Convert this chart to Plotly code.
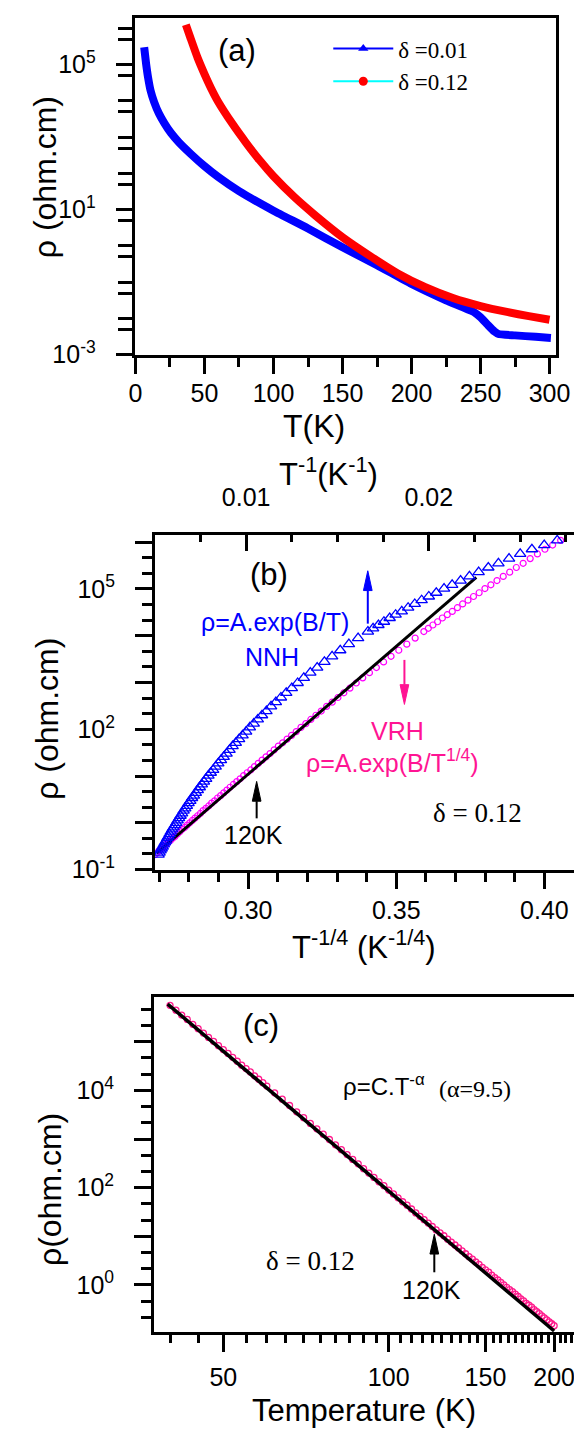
import plotly.graph_objects as go

W, H = 582, 1439

# ---------------- data ----------------
# panel (a): rho(T), delta = 0.01
T_a_d001 = [6.3, 7.7, 9.1, 10.9, 13.5, 17, 21, 25.6, 31.4, 40, 50, 60, 75, 100, 125,
            150, 175, 200, 225, 245, 250, 255, 260, 263, 275, 290, 301]
log_rho_a_d001 = [5.48, 5.02, 4.65, 4.29, 3.97, 3.65, 3.38, 3.12, 2.86, 2.54, 2.20, 1.90,
                  1.51, 0.97, 0.48, -0.04, -0.53, -1.05, -1.50, -1.82, -1.97, -2.17, -2.36,
                  -2.43, -2.47, -2.51, -2.54]
# panel (a): rho(T), delta = 0.12
T_a_d012 = [36.5, 40, 45, 50, 55, 60, 70, 80, 90, 100, 115, 130, 150, 170, 190, 210,
            230, 250, 270, 285, 300]
log_rho_a_d012 = [6.10, 5.72, 5.19, 4.74, 4.33, 3.97, 3.38, 2.85, 2.36, 1.92, 1.35, 0.85,
                  0.24, -0.28, -0.76, -1.14, -1.44, -1.66, -1.83, -1.94, -2.04]

# panels (b), (c): delta = 0.12 sample
T_012 = [37, 38, 39, 40, 41, 42, 43, 44, 45, 46, 47, 48, 49, 50, 51, 52, 53, 54, 55, 56,
         57, 58, 59, 60,
         62, 64, 66, 68, 70, 72, 74, 76, 78, 80, 82, 84, 86, 88, 90, 92, 94, 96, 98, 100,
         102, 104, 106, 108, 110, 112, 114, 116, 118, 120, 122, 124, 126, 128, 130, 132,
         134, 136, 138, 140, 142, 144, 146, 148, 150, 152, 154, 156, 158, 160, 162, 164,
         166, 168, 170, 172, 174, 176, 178, 180, 182, 184, 186, 188, 190, 192, 194, 196,
         198, 200]
log_rho_012 = [6.04, 5.94, 5.85, 5.75, 5.65, 5.55, 5.46, 5.36, 5.27, 5.18, 5.09, 5.01,
               4.92, 4.84, 4.76, 4.68, 4.60, 4.52, 4.45, 4.38, 4.30, 4.23, 4.16, 4.09,
               3.95, 3.82, 3.69, 3.56, 3.44, 3.32, 3.21, 3.10, 2.99, 2.88,
               2.78, 2.68, 2.58, 2.49, 2.39, 2.30, 2.21, 2.12, 2.04, 1.95,
               1.87, 1.79, 1.71, 1.64, 1.56, 1.48, 1.41, 1.34, 1.27, 1.20,
               1.13, 1.07, 1.01, 0.94, 0.88, 0.82, 0.76, 0.70, 0.64, 0.58,
               0.53, 0.47, 0.42, 0.36, 0.31, 0.26, 0.20, 0.15, 0.10, 0.05,
               0.00, -0.05, -0.10, -0.14, -0.19, -0.24, -0.29, -0.33, -0.38, -0.42,
               -0.46, -0.51, -0.55, -0.59, -0.64, -0.68, -0.72, -0.76, -0.80, -0.84]
assert len(T_012) == len(log_rho_012)

# fitted lines (end points)
vrh_fit_x = [0.2691, 0.3770]          # T^-1/4
vrh_fit_log_rho = [-0.65, 5.25]
pow_fit_T = [39.6, 200]
pow_fit_log_rho = [5.775, -0.95]

# tick labels
ticks_a_x = [0, 50, 100, 150, 200, 250, 300]
ticks_a_y = [1e-3, 1e1, 1e5]
ticktext_a_y = ['10<sup>-3</sup>', '10<sup>1</sup>', '10<sup>5</sup>']
ticks_b_x = [0.30, 0.35, 0.40]
ticktext_b_x = ['0.30', '0.35', '0.40']
ticks_b_top = [0.01, 0.02]
ticktext_b_top = ['0.01', '0.02']
ticks_c_x = [50, 100, 150, 200]

# ---------------- helpers ----------------
def rho(logs):
    return [10 ** v for v in logs]

def px(x):
    return x / W

def py(y):
    return 1 - y / H

BLUE = '#0000ff'
RED = '#ff0000'
MAG = '#ff00ff'
PINK = '#ff1a8c'
TXTPINK = '#ff1493'
SANS = 'Liberation Sans'
SERIF = 'Liberation Serif'

fig = go.Figure()

# ---- panel (a)
fig.add_trace(go.Scatter(x=T_a_d001, y=rho(log_rho_a_d001), mode='lines',
                         line=dict(color=BLUE, width=8, shape='spline', smoothing=0.5),
                         xaxis='x', yaxis='y', showlegend=False))
fig.add_trace(go.Scatter(x=T_a_d012, y=rho(log_rho_a_d012), mode='lines',
                         line=dict(color=RED, width=8, shape='spline', smoothing=0.5),
                         xaxis='x', yaxis='y', showlegend=False))
# legend entries
fig.add_trace(go.Scatter(x=[None], y=[None], mode='lines+markers', name='δ =0.01',
                         line=dict(color=BLUE, width=2),
                         marker=dict(symbol='triangle-up', size=9, color=BLUE),
                         xaxis='x', yaxis='y', legend='legend'))
fig.add_trace(go.Scatter(x=[None], y=[None], mode='lines+markers', name='δ =0.12',
                         line=dict(color='#00ffff', width=2),
                         marker=dict(symbol='circle', size=9, color=RED),
                         xaxis='x', yaxis='y', legend='legend2'))

# ---- panel (b)
T_b = [t for t in T_012 if t <= 192]
rho_b = [10 ** v for t, v in zip(T_012, log_rho_012) if t <= 192]
fig.add_trace(go.Scatter(x=[1.0 / t for t in T_b], y=rho_b, mode='markers',
                         marker=dict(symbol='triangle-up-open', size=10, color=BLUE,
                                     line=dict(width=1.3, color=BLUE)),
                         xaxis='x4', yaxis='y2', showlegend=False))
fig.add_trace(go.Scatter(x=[t ** -0.25 for t in T_b], y=rho_b, mode='markers',
                         marker=dict(symbol='circle-open', size=6, color=MAG,
                                     line=dict(width=1.2, color=MAG)),
                         xaxis='x2', yaxis='y2', showlegend=False))
fig.add_trace(go.Scatter(x=vrh_fit_x, y=rho(vrh_fit_log_rho), mode='lines',
                         line=dict(color='black', width=3),
                         xaxis='x2', yaxis='y2', showlegend=False))

# ---- panel (c)
T_c = [t for t in T_012 if t >= 40]
rho_c = [10 ** v for t, v in zip(T_012, log_rho_012) if t >= 40]
fig.add_trace(go.Scatter(x=T_c, y=rho_c, mode='markers',
                         marker=dict(symbol='circle-open', size=6, color=PINK,
                                     line=dict(width=1.3, color=PINK)),
                         xaxis='x3', yaxis='y3', showlegend=False))
fig.add_trace(go.Scatter(x=pow_fit_T, y=rho(pow_fit_log_rho), mode='lines',
                         line=dict(color='black', width=3.5),
                         xaxis='x3', yaxis='y3', showlegend=False))

# ---------------- axes ----------------
tickfont = dict(family=SANS, size=25, color='black')

def axis_common(**kw):
    d = dict(showline=True, linecolor='black', linewidth=2.5, mirror=True,
             ticks='outside', ticklen=17, tickwidth=2.5, tickcolor='black',
             showgrid=False, zeroline=False, tickfont=tickfont, tickmode='array')
    d.update(kw)
    return d

def minor(vals, ln=10, ticks='outside'):
    return dict(tickmode='array', tickvals=vals, ticklen=ln, tickwidth=2.5,
                tickcolor='black', ticks=ticks, showgrid=False)

def decades(lo, hi):
    return [10.0 ** k for k in range(lo, hi + 1)]

def third_dec(lo, hi):
    return [10.0 ** (k + f) for k in range(lo, hi + 1) for f in (1 / 3, 2 / 3)]

# (a)
a_minor_y = [v for v in decades(-3, 6) if v not in ticks_a_y] + [5 * 10.0 ** k for k in range(-3, 6)]
fig.update_layout(
    xaxis=axis_common(domain=[px(125), px(561.7)], range=[0, 305], anchor='y',
                      tickvals=ticks_a_x, ticktext=[str(v) for v in ticks_a_x],
                      minor=minor([25, 75, 125, 175, 225, 275]), ticklabelstandoff=-2),
    yaxis=axis_common(domain=[py(350), py(10)], type='log', range=[-3, 6.29], anchor='x',
                      tickvals=ticks_a_y, ticktext=ticktext_a_y,
                      minor=minor(a_minor_y, ln=15), ticklabelstandoff=15),
)
# (b)
b_y_major = decades(-1, 6)
b_y_text = ['10<sup>%d</sup>' % k if k in (-1, 2, 5) else '' for k in range(-1, 7)]
fig.update_layout(
    xaxis2=axis_common(domain=[px(145), px(580)], range=[0.2685, 0.41], anchor='y2',
                       tickvals=ticks_b_x, ticktext=ticktext_b_x,
                       minor=minor([0.27, 0.28, 0.29, 0.31, 0.32, 0.33, 0.34, 0.36, 0.37,
                                    0.38, 0.39]), ticklabelstandoff=0),
    xaxis4=dict(overlaying='x2', side='top', anchor='y2', range=[0.005, 0.02795],
                domain=[px(145), px(580)], showline=True, linecolor='black', linewidth=2.5,
                ticks='inside', ticklen=17, tickwidth=2.5, tickcolor='black',
                showgrid=False, zeroline=False, tickfont=tickfont, tickmode='array',
                tickvals=ticks_b_top, ticktext=ticktext_b_top, ticklabelstandoff=16,
                minor=minor([0.005, 0.0075, 0.0125, 0.015, 0.0175, 0.0225, 0.025, 0.0275],
                            ln=8, ticks='inside')),
    yaxis2=axis_common(domain=[py(870), py(531.7)], type='log', range=[-1, 6.165],
                       anchor='x2', tickvals=b_y_major, ticktext=b_y_text,
                       minor=minor(third_dec(-1, 6)), ticklabelstandoff=15),
)
# (c)
c_x_minor = [v for v in range(40, 220, 5) if v not in ticks_c_x]
c_y_major = decades(-1, 5)
c_y_text = ['10<sup>%d</sup>' % k if k in (0, 2, 4) else '' for k in range(-1, 6)]
fig.update_layout(
    xaxis3=axis_common(domain=[px(144), px(580)], type='log', range=[1.5725, 2.3373],
                       anchor='y3', tickvals=ticks_c_x, ticktext=[str(v) for v in ticks_c_x],
                       minor=minor(c_x_minor, ln=8), ticklabelstandoff=4),
    yaxis3=axis_common(domain=[py(1337.5), py(998.3)], type='log', range=[-0.98, 5.93],
                       anchor='x3', tickvals=c_y_major, ticktext=c_y_text,
                       minor=minor(third_dec(-1, 5)), ticklabelstandoff=15),
)

# ---------------- legends ----------------
leg_common = dict(xanchor='left', yanchor='middle', bgcolor='rgba(0,0,0,0)',
                  font=dict(family=SERIF, size=23, color='black'), itemwidth=60,
                  borderwidth=0)
fig.update_layout(
    legend=dict(x=px(325), y=py(41), **leg_common),
    legend2=dict(x=px(325), y=py(74), **leg_common),
)

# ---------------- text ----------------
ann = []

def text(x, y, s, size=25, color='black', family=SANS, angle=0):
    ann.append(dict(x=px(x), y=py(y), xref='paper', yref='paper', text=s, showarrow=False,
                    xanchor='center', yanchor='middle', textangle=angle,
                    font=dict(family=family, size=size, color=color)))

# axis titles
text(31, 171, 'ρ (ohm.cm)', size=32, angle=-90)
text(310, 422, 'T(K)', size=32)
text(325, 469, 'T<sup>-1</sup>(K<sup>-1</sup>)', size=31)
text(33, 718, 'ρ (ohm.cm)', size=32, angle=-90)
text(362, 946, 'T<sup>-1/4</sup> (K<sup>-1/4</sup>)', size=31)
text(37, 1193, 'ρ(ohm.cm)', size=32, angle=-90)
text(362, 1416, 'Temperature (K)', size=31)

# panel labels and notes
text(230, 43, '(a)', size=31)
text(263, 572, '(b)', size=31)
text(270, 620, 'ρ=A.exp(B/T)', size=25, color=BLUE)
text(267, 655, 'NNH', size=25, color=BLUE)
text(397, 730, 'VRH', size=25, color=TXTPINK)
text(392, 760, 'ρ=A.exp(B/T<sup>1/4</sup>)', size=25, color=TXTPINK)
text(480, 813, 'δ = 0.12', size=27, family=SERIF)
text(247, 835, '120K', size=25)
text(255, 1028, '(c)', size=31)
text(383, 1088, 'ρ=C.T<sup>-α</sup>', size=24)
text(477, 1092, '(α=9.5)', size=24, family=SERIF)
text(307, 1265, 'δ = 0.12', size=27, family=SERIF)
text(432, 1295, '120K', size=25)

fig.update_layout(annotations=ann)

# arrows (shaft + long filled head)
shapes = []

def arrow(x, y_tail, y_head, color, head_len=20, half_w=4.5, width=2):
    d = 1 if y_head > y_tail else -1
    y_base = y_head - d * head_len
    shapes.append(dict(type='line', xref='paper', yref='paper', x0=px(x), x1=px(x),
                       y0=py(y_tail), y1=py(y_base), line=dict(color=color, width=width)))
    path = 'M%f,%f L%f,%f L%f,%f Z' % (px(x - half_w), py(y_base), px(x + half_w), py(y_base),
                                       px(x), py(y_head))
    shapes.append(dict(type='path', xref='paper', yref='paper', path=path,
                       fillcolor=color, line=dict(color=color, width=1)))

arrow(366, 621.7, 568.3, BLUE)
arrow(404, 658.3, 703.3, TXTPINK)
arrow(250.7, 818.3, 781, 'black')
arrow(435, 1276.7, 1238.3, 'black')
fig.update_layout(shapes=shapes)

fig.update_layout(width=W, height=H, margin=dict(l=0, r=0, t=0, b=0),
                  paper_bgcolor='white', plot_bgcolor='white',
                  font=dict(family=SANS, color='black'))

fig.write_html('out.html')
